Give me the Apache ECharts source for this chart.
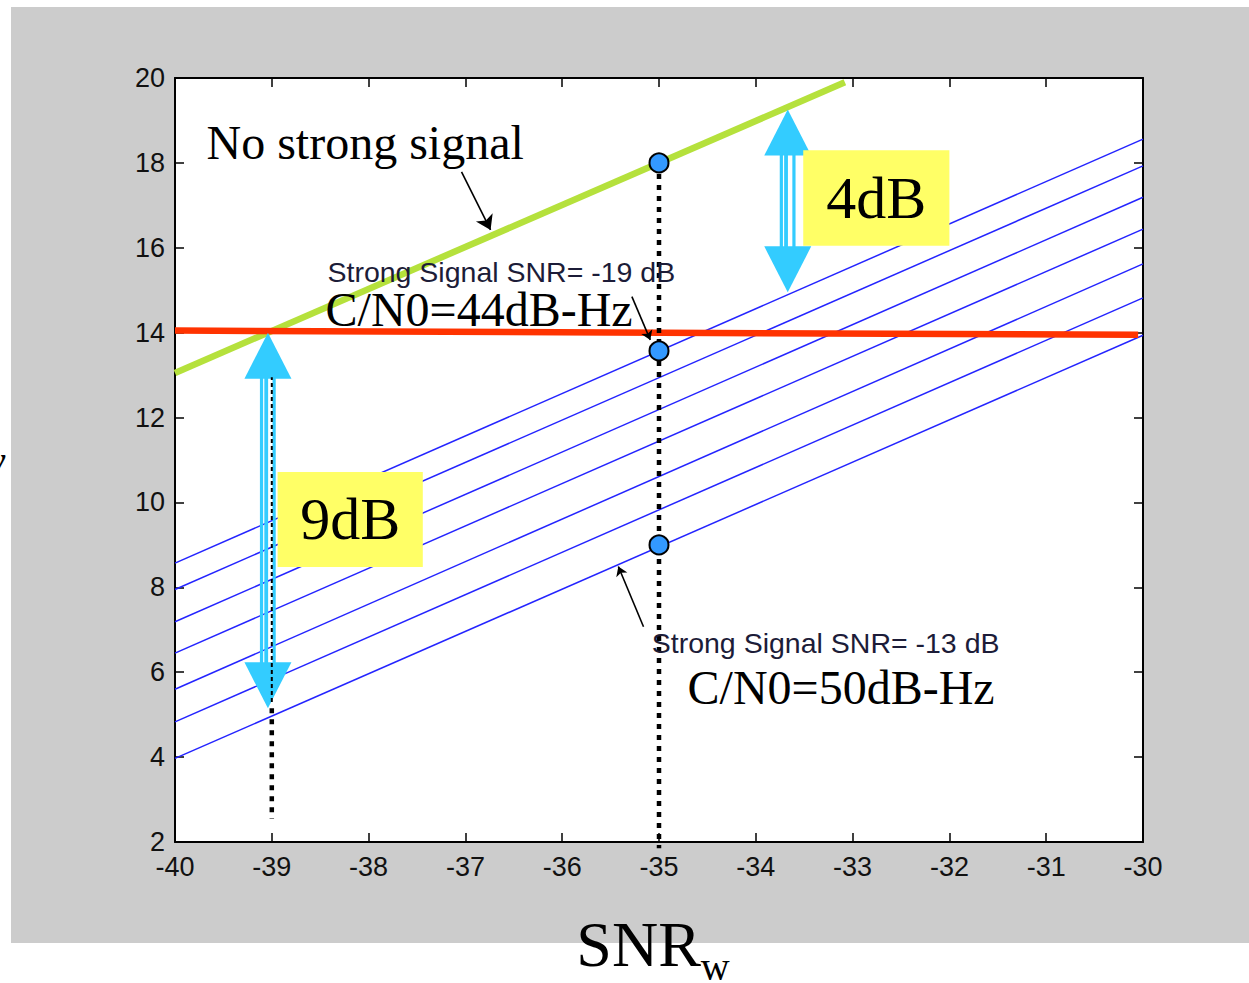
<!DOCTYPE html>
<html><head><meta charset="utf-8">
<script src="https://cdn.jsdelivr.net/npm/echarts@6/dist/echarts.min.js"></script>
<style>html,body{margin:0;padding:0;background:#fff;overflow:hidden}#c{width:1249px;height:983px}</style>
</head><body><div id="c"></div>
<script>
// ---- data ----
const xRange = [-40, -30];
const yRange = [2, 20];
const xTickStep = 1;
const yTickStep = 2;

// family of "strong signal" curves (top = -19 dB ... bottom = -13 dB)
const strongSnrDb = [-19, -18, -17, -16, -15, -14, -13];
const curveX = [-40, -30];
const curveStartY = [8.57, 7.95, 7.19, 6.45, 5.60, 4.83, 3.97];
const curveEndY = [18.56, 17.93, 17.19, 16.44, 15.62, 14.82, 13.94];

// "No strong signal" line
const noStrongX = [-40, -33.08];
const noStrongY = [13.05, 19.9];

// threshold line
const thresholdX = [-40, -30.05];
const thresholdY = [14.05, 13.95];

// markers on x = -35
const markerX = [-35, -35, -35];
const markerY = [18, 13.57, 9];

// dotted guides
const guideX = [-35, -39];
const guideTop = [18, 5.15];
const guideBottom = [1.85, 2.55];
const shaftGuideX = -39;
const shaftGuideY = [5.3, 12.95];

// double arrows
const gapX = [-39.04, -33.67];
const gapTop = [14, 19.26];
const gapBottom = [5.15, 14.95];

// yellow boxes
const boxLabel = ['9dB', '4dB'];
const boxX1 = [-38.94, -33.51];
const boxX2 = [-37.44, -32.0];
const boxY1 = [8.48, 16.05];
const boxY2 = [10.72, 18.3];

// annotations
const noteText = ['No strong signal', 'Strong Signal SNR= -19 dB', 'C/N0=44dB-Hz', 'Strong Signal SNR= -13 dB', 'C/N0=50dB-Hz'];
const noteX = [-39.68, -38.43, -38.45, -35.08, -34.71];
const noteY = [18.48, 15.43, 14.54, 6.69, 5.63];
const noteKind = ['serif', 'sans', 'serif', 'sans', 'serif'];

// pointer arrows [from, to]
const pointerFrom = [[-37.04, 17.79], [-35.28, 14.85], [-35.16, 7.07]];
const pointerTo = [[-36.74, 16.42], [-35.09, 13.83], [-35.42, 8.49]];

// ---- chart ----
const chart = echarts.init(document.getElementById('c'), null, {renderer: 'svg'});
const SERIF = '"Liberation Serif","Times New Roman",serif';
const SANS = '"Liberation Sans",Arial,sans-serif';

const series = [];
strongSnrDb.forEach((snr, i) => {
  series.push({
    name: 'Strong Signal SNR= ' + snr + ' dB', type: 'line', symbol: 'none', z: 2,
    data: [[curveX[0], curveStartY[i]], [curveX[1], curveEndY[i]]],
    lineStyle: {color: '#2424ff', width: 1.5}
  });
});
series.push({
  name: 'No strong signal', type: 'line', symbol: 'none', z: 3,
  data: noStrongX.map((x, i) => [x, noStrongY[i]]),
  lineStyle: {color: '#b5e13c', width: 6.5}
});
series.push({
  name: 'Threshold', type: 'line', symbol: 'none', z: 3,
  data: thresholdX.map((x, i) => [x, thresholdY[i]]),
  lineStyle: {color: '#ff3300', width: 6.5}
});
guideX.forEach((x, i) => {
  series.push({
    type: 'line', symbol: 'none', clip: false, z: 4,
    data: [[x, guideTop[i]], [x, guideBottom[i]]],
    lineStyle: {color: '#000', width: 4.5, type: [5, 6], cap: 'butt'}
  });
});
// double arrows
series.push({
  type: 'custom', z: 5, clip: false,
  data: gapX.map((x, i) => [x, gapTop[i], gapBottom[i]]),
  renderItem: function (params, api) {
    const x = api.value(0);
    const t = api.coord([x, api.value(1)]);
    const b = api.coord([x, api.value(2)]);
    const cx = t[0], hw = 23.5, hh = 46, col = '#33ccff';
    const y1 = t[1] + hh - 1, y2 = b[1] - hh + 1;
    const stripes = [[-8, 3.2], [-3.6, 3.8], [4.6, 3.2]];
    const children = [
      {type: 'polygon', shape: {points: [[cx, t[1]], [cx - hw, t[1] + hh], [cx + hw, t[1] + hh]]}, style: {fill: col}},
      {type: 'polygon', shape: {points: [[cx, b[1]], [cx - hw, b[1] - hh], [cx + hw, b[1] - hh]]}, style: {fill: col}}
    ];
    stripes.forEach(s => children.push({type: 'rect', shape: {x: cx + s[0], y: y1, width: s[1], height: y2 - y1}, style: {fill: col}}));
    return {type: 'group', children: children};
  }
});
series.push({
  type: 'line', symbol: 'none', z: 6,
  data: [[shaftGuideX, shaftGuideY[0]], [shaftGuideX, shaftGuideY[1]]],
  lineStyle: {color: '#000', width: 2, type: [4, 3], cap: 'butt'}
});
// yellow boxes
series.push({
  type: 'custom', z: 6,
  data: boxX1.map((x, i) => [x, boxY2[i], boxX2[i], boxY1[i]]),
  renderItem: function (params, api) {
    const p1 = api.coord([api.value(0), api.value(1)]);
    const p2 = api.coord([api.value(2), api.value(3)]);
    return {type: 'rect', shape: {x: p1[0], y: p1[1], width: p2[0] - p1[0], height: p2[1] - p1[1]}, style: {fill: '#ffff66'}};
  }
});
series.push({
  type: 'scatter', z: 7, symbolSize: 1, itemStyle: {color: 'transparent'},
  data: boxLabel.map((t, i) => ({name: t, value: [(boxX1[i] + boxX2[i]) / 2, (boxY1[i] + boxY2[i]) / 2]})),
  label: {show: true, position: 'inside', formatter: '{b}', color: '#000', opacity: 1, fontFamily: SERIF, fontSize: 60}
});
// pointers
series.push({
  type: 'lines', coordinateSystem: 'cartesian2d', z: 7,
  symbol: ['none', 'arrow'],
  data: pointerFrom.map((f, i) => ({coords: [f, pointerTo[i]], symbolSize: i === 0 ? 14 : 9})),
  lineStyle: {color: '#000', width: 1.6, opacity: 1}
});
// markers
series.push({
  name: 'Operating points', type: 'scatter', z: 8, symbol: 'circle', symbolSize: 19,
  data: markerX.map((x, i) => [x, markerY[i]]),
  itemStyle: {color: '#3399ff', borderColor: '#000', borderWidth: 2, opacity: 1}
});
// notes
series.push({
  type: 'scatter', z: 9, symbolSize: 1, itemStyle: {color: 'transparent'},
  data: noteText.map((t, i) => ({
    name: t, value: [noteX[i], noteY[i]],
    label: noteKind[i] === 'serif'
      ? {fontFamily: SERIF, fontSize: 48, color: '#000', opacity: 1}
      : {fontFamily: SANS, fontSize: 28.5, color: '#1c1c38', opacity: 1}
  })),
  label: {show: true, position: 'right', distance: 0, formatter: '{b}'}
});

const axisCommon = {
  axisLine: {show: true, onZero: false, lineStyle: {color: '#000', width: 2}},
  axisTick: {show: true, inside: true, length: 9, lineStyle: {color: '#000', width: 1.5}},
  splitLine: {show: false}
};

chart.setOption({
  animation: false,
  backgroundColor: '#fff',
  graphic: [
    {type: 'rect', z: -100, shape: {x: 11, y: 7, width: 1238, height: 936}, style: {fill: '#cccccc'}, silent: true},
    {type: 'text', z: -50, x: -21, y: 440, style: {text: 'w', font: 'italic 40px ' + SERIF, fill: '#000'}, silent: true}
  ],
  grid: {left: 175, top: 78, width: 968, height: 764, show: true, backgroundColor: '#fff', borderWidth: 0,
         containLabel: false, outerBoundsMode: 'none'},
  xAxis: [
    Object.assign({
      type: 'value', min: xRange[0], max: xRange[1], interval: xTickStep, position: 'bottom',
      axisLabel: {color: '#111', fontFamily: SANS, fontSize: 27, margin: 11},
      name: '{a|SNR}{b|w}', nameLocation: 'middle', nameGap: 70,
      nameTextStyle: {padding: [0, 12, 0, 0], rich: {
        a: {fontFamily: SERIF, fontSize: 64, lineHeight: 64, color: '#000', verticalAlign: 'top'},
        b: {fontFamily: SERIF, fontSize: 40, lineHeight: 40, color: '#000', padding: [34, 0, 0, 0], verticalAlign: 'top'}
      }}
    }, axisCommon),
    Object.assign({
      type: 'value', min: xRange[0], max: xRange[1], interval: xTickStep, position: 'top',
      axisLabel: {show: false}
    }, axisCommon)
  ],
  yAxis: [
    Object.assign({
      type: 'value', min: yRange[0], max: yRange[1], interval: yTickStep, position: 'left',
      axisLabel: {color: '#111', fontFamily: SANS, fontSize: 27, margin: 10}
    }, axisCommon),
    Object.assign({
      type: 'value', min: yRange[0], max: yRange[1], interval: yTickStep, position: 'right',
      axisLabel: {show: false}
    }, axisCommon)
  ],
  series: series
});
</script></body></html>
